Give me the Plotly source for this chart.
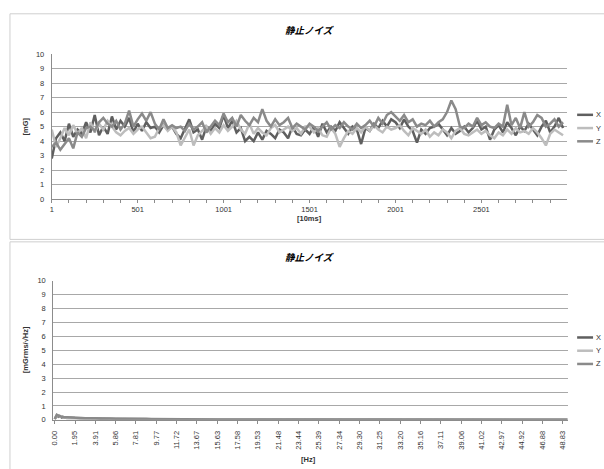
import plotly.graph_objects as go

# ---------------- data ----------------
title_text = "静止ノイズ"
series_names = ["X", "Y", "Z"]
series_colors = ["#5f5f5f", "#bdbdbd", "#8a8a8a"]

# top chart: sample index [10ms]
t_index = list(range(1, 3001, 25))
t_x = [2.8, 4.2, 4.6, 4.0, 5.2, 4.3, 4.8, 4.5, 5.3, 4.6,
       5.8, 4.4, 5.0, 4.5, 5.7, 4.8, 5.4, 5.0, 5.6, 4.6,
       5.2, 4.7, 5.3, 4.9, 5.0, 4.6, 5.1, 4.8, 5.0, 4.5,
       4.2, 4.9, 5.5, 4.6, 4.8, 4.1, 5.0, 4.7, 5.2, 4.9,
       5.8, 4.9, 5.4, 4.6, 4.9, 4.0, 4.3, 4.0, 4.6, 4.1,
       4.7, 4.5, 4.2, 4.8, 4.6, 4.2, 5.0, 4.5, 4.4, 4.8,
       4.5, 5.0, 4.3, 5.2, 4.6, 5.0, 4.7, 5.3, 4.9, 4.5,
       5.0, 4.8, 3.8, 4.9, 4.7, 5.2, 4.9, 5.4, 5.0, 5.5,
       5.3, 4.9, 5.5, 5.0, 4.7, 3.9, 4.8, 4.5, 4.9, 5.0,
       5.2, 4.8, 4.4, 4.9, 4.5, 4.7, 5.0, 4.6, 4.9, 5.4,
       4.8, 5.0, 4.1, 4.8, 5.1, 4.6, 5.3, 4.9, 4.4, 5.0,
       4.7, 5.2, 4.8, 4.4, 5.0, 5.4, 4.6, 5.0, 5.6, 4.9]
t_y = [4.8, 3.6, 4.2, 4.9, 4.4, 5.1, 4.5, 4.9, 4.2, 5.3,
       4.6, 5.2, 4.8, 5.4, 5.0, 4.6, 4.4, 4.7, 4.9, 4.5,
       4.8, 5.0, 4.6, 4.2, 4.3, 4.9, 5.1, 4.7, 5.0, 4.6,
       3.7, 4.2, 4.8, 3.7, 4.4, 4.7, 5.0, 4.5, 4.9, 4.6,
       5.1, 4.7, 5.0, 5.4, 4.8, 4.5, 5.2, 4.5, 4.9, 4.6,
       4.4, 4.9, 5.1, 4.6, 4.8, 5.0, 4.7, 4.9, 4.5, 5.0,
       5.0, 4.6, 4.9, 4.4, 4.3, 4.9, 4.5, 3.6, 4.2, 4.7,
       4.5, 4.9, 4.6, 5.0, 4.7, 5.1, 4.8, 4.6, 5.0, 4.8,
       4.9, 5.1, 4.7, 4.4, 4.9, 4.7, 4.5, 4.8, 4.3, 4.6,
       4.4, 4.8, 4.6, 4.2, 4.7, 4.9, 4.5, 4.4, 4.6, 4.8,
       4.5, 4.7, 4.4, 4.2, 4.6, 4.4, 4.8, 4.5, 4.9, 4.6,
       4.7, 4.5, 4.9, 4.6, 4.2, 3.7, 4.5, 4.8, 4.6, 4.4]
t_z = [3.6, 3.9, 3.4, 3.8, 4.2, 3.5, 4.6, 4.3, 4.9, 5.0,
       4.7, 5.3, 5.6, 5.2, 5.0, 5.4, 4.8, 5.2, 6.1, 5.0,
       5.5, 5.9, 5.4, 6.0, 5.2, 4.8, 5.5, 4.9, 5.1, 4.9,
       5.0, 4.7, 5.2, 4.8, 5.0, 5.3, 4.6, 5.0, 5.4, 5.1,
       5.9, 5.3, 5.6, 5.0, 5.8, 5.4, 5.1, 5.6, 5.3, 6.2,
       5.4, 5.0, 5.5, 5.1, 5.3, 5.6, 4.9, 5.2, 5.0, 4.8,
       5.2, 5.0, 4.7, 5.0, 5.3, 4.8, 5.1, 4.9, 5.3, 5.0,
       4.8, 5.2, 4.9, 5.1, 5.4, 5.0, 5.6, 5.2, 5.8, 6.0,
       5.7, 5.4, 5.8, 5.3, 5.5, 5.0, 5.2, 5.1, 5.4, 5.0,
       5.3, 5.5, 6.0, 6.8, 6.2, 5.0, 4.9, 5.2, 5.0, 5.6,
       5.1, 5.3, 5.0, 4.9, 5.2, 5.0, 6.5, 5.1, 5.6, 4.9,
       6.0, 5.0, 5.3, 5.8, 5.6, 5.0, 5.2, 5.5, 5.0, 5.3]
top_tickvals = [1, 501, 1001, 1501, 2001, 2501]
top_ticktext = ["1", "501", "1001", "1501", "2001", "2501"]

# bottom chart: frequency [Hz]
f_hz = [0, 0.1, 0.2, 0.29, 0.39, 0.49, 0.59, 0.68, 0.78, 0.98,
        1.17, 1.46, 1.76, 1.95, 2.44, 2.93, 3.42, 3.91, 4.39, 4.88,
        5.37, 5.86, 6.35, 6.84, 7.32, 7.81, 8.3, 8.79, 9.28, 9.77,
        10.25, 10.74, 11.23, 11.72, 12.21, 12.7, 13.18, 13.67, 14.65, 15.63,
        17.58, 19.53, 21.48, 23.44, 25.39, 27.34, 29.3, 31.25, 33.2, 35.16,
        37.11, 39.06, 41.02, 42.97, 44.92, 46.88, 48.83, 49.3]
f_x = [0.05, 0.18, 0.30, 0.26, 0.22, 0.28, 0.20, 0.17, 0.21, 0.15,
       0.14, 0.16, 0.12, 0.13, 0.11, 0.12, 0.10, 0.11, 0.08, 0.09,
       0.07, 0.08, 0.07, 0.06, 0.07, 0.06, 0.05, 0.06, 0.05, 0.05,
       0.04, 0.05, 0.04, 0.04, 0.03, 0.04, 0.03, 0.03, 0.03, 0.02,
       0.02, 0.02, 0.02, 0.02, 0.01, 0.02, 0.01, 0.01, 0.01, 0.01,
       0.01, 0.01, 0.01, 0.01, 0.01, 0.01, 0.01, 0.01]
f_y = [0.04, 0.22, 0.34, 0.30, 0.25, 0.24, 0.22, 0.20, 0.18, 0.17,
       0.15, 0.14, 0.14, 0.12, 0.12, 0.10, 0.11, 0.09, 0.09, 0.08,
       0.08, 0.07, 0.07, 0.07, 0.06, 0.06, 0.06, 0.05, 0.05, 0.05,
       0.05, 0.04, 0.04, 0.04, 0.03, 0.03, 0.03, 0.03, 0.02, 0.02,
       0.02, 0.02, 0.01, 0.01, 0.01, 0.01, 0.01, 0.01, 0.01, 0.01,
       0.01, 0.01, 0.01, 0.01, 0.01, 0.01, 0.01, 0.01]
f_z = [0.06, 0.25, 0.37, 0.33, 0.29, 0.31, 0.24, 0.22, 0.20, 0.19,
       0.17, 0.15, 0.16, 0.13, 0.13, 0.12, 0.12, 0.10, 0.10, 0.09,
       0.09, 0.08, 0.08, 0.07, 0.07, 0.07, 0.06, 0.06, 0.06, 0.05,
       0.05, 0.05, 0.05, 0.04, 0.04, 0.04, 0.03, 0.03, 0.03, 0.03,
       0.02, 0.02, 0.02, 0.02, 0.02, 0.02, 0.01, 0.01, 0.01, 0.01,
       0.01, 0.01, 0.01, 0.01, 0.01, 0.01, 0.01, 0.01]
bottom_tickvals = [0.0, 1.953125, 3.90625, 5.859375, 7.8125, 9.765625, 11.71875,
                   13.671875, 15.625, 17.578125, 19.53125, 21.484375, 23.4375,
                   25.390625, 27.34375, 29.296875, 31.25, 33.203125, 35.15625,
                   37.109375, 39.0625, 41.015625, 42.96875, 44.921875, 46.875, 48.828125]
bottom_ticktext = ["0.00", "1.95", "3.91", "5.86", "7.81", "9.77", "11.72", "13.67",
                   "15.63", "17.58", "19.53", "21.48", "23.44", "25.39", "27.34", "29.30",
                   "31.25", "33.20", "35.16", "37.11", "39.06", "41.02", "42.97", "44.92",
                   "46.88", "48.83"]

# ---------------- figure ----------------
W, H = 604, 469
def px(x):
    return x / W
def py(y):
    return 1 - y / H

FONT = "Liberation Sans"
JP = "Noto Sans CJK JP"
GRID = "#a8a8a8"
TXT = "#333333"
AXC = "#8c8c8c"

fig = go.Figure()
top_series = [t_x, t_y, t_z]
bot_series = [f_x, f_y, f_z]
for name, col, vals in zip(series_names, series_colors, top_series):
    fig.add_trace(go.Scatter(x=t_index, y=vals, mode="lines", name=name,
                             line=dict(color=col, width=2.5), xaxis="x", yaxis="y",
                             showlegend=False))
for name, col, vals in zip(series_names, series_colors, bot_series):
    fig.add_trace(go.Scatter(x=f_hz, y=vals, mode="lines", name=name,
                             line=dict(color=col, width=2.5), xaxis="x2", yaxis="y2",
                             showlegend=False))

axis_font = dict(family=FONT, size=7.5, color=TXT)
fig.update_layout(
    width=W, height=H, margin=dict(l=0, r=0, t=0, b=0),
    paper_bgcolor="white", plot_bgcolor="white", showlegend=False,
    xaxis=dict(domain=[px(49), px(567)], range=[1, 3000], anchor="y",
               tickvals=top_tickvals, ticktext=top_ticktext, tickfont=axis_font,
               ticks="outside", ticklen=3, tickcolor=AXC,
               minor=dict(dtick=100, tick0=1, ticks="outside", ticklen=3, tickcolor=AXC, showgrid=False),
               showgrid=False, zeroline=False, showline=True, linecolor=AXC, linewidth=1),
    yaxis=dict(domain=[py(199), py(51)], range=[0, 10], dtick=1, anchor="x",
               tickfont=axis_font, ticklabelstandoff=5,
               showgrid=True, gridcolor=GRID, gridwidth=1, zeroline=False,
               showline=True, linecolor=AXC, linewidth=1),
    xaxis2=dict(domain=[px(50.5), px(567.5)], range=[-0.14, 49.31], anchor="y2",
                tickvals=bottom_tickvals, ticktext=bottom_ticktext, tickfont=axis_font,
                tickangle=-90, ticks="outside", ticklen=3, tickcolor=AXC, ticklabelstandoff=4,
                showgrid=False, zeroline=False, showline=True, linecolor=AXC, linewidth=1),
    yaxis2=dict(domain=[py(424), py(282)], range=[0, 10], dtick=1, anchor="x2",
                tickfont=axis_font, ticklabelstandoff=5,
                showgrid=True, gridcolor=GRID, gridwidth=1, zeroline=False,
                showline=True, linecolor=AXC, linewidth=1),
)

shapes = [
    dict(type="rect", xref="paper", yref="paper", x0=px(7), x1=px(620), y0=py(240), y1=py(10),
         line=dict(color="#cfcfcf", width=1), layer="below"),
    dict(type="rect", xref="paper", yref="paper", x0=px(7), x1=px(620), y0=py(480), y1=py(242.5),
         line=dict(color="#cfcfcf", width=1), layer="below"),
]
annotations = []
title_font = dict(family=JP, size=9.5, color="#000000")
lab_font = dict(family=FONT, size=7.5, color=TXT)
def note(text, x, y, font, **kw):
    d = dict(text=text, x=px(x), y=py(y), xref="paper", yref="paper", showarrow=False,
             xanchor="center", yanchor="middle", font=font)
    d.update(kw)
    return d
for ty in (27, 258):
    annotations.append(note("<b><i>" + title_text + "</i></b>", 308, ty, title_font))
annotations += [
    note("<b>[10ms]</b>", 308, 219, lab_font),
    note("<b>[Hz]</b>", 307, 464, lab_font),
    note("<b>[mG]</b>", 23, 125, lab_font, textangle=-90),
    note("<b>[mGrms/√Hz]</b>", 22, 352, lab_font, textangle=-90),
]
# legends (one per chart)
for base in (113, 340):
    for i, (name, col) in enumerate(zip(series_names, series_colors)):
        yy = base + i * 13.5
        shapes.append(dict(type="line", xref="paper", yref="paper", x0=px(577), x1=px(593),
                           y0=py(yy), y1=py(yy), line=dict(color=col, width=2.5)))
        annotations.append(note(name, 594, yy, lab_font, xanchor="left"))
fig.update_layout(shapes=shapes, annotations=annotations)

fig.write_html("out.html", config={"displayModeBar": False},
               post_script="document.body.style.margin='0';document.body.style.overflow='hidden';")
